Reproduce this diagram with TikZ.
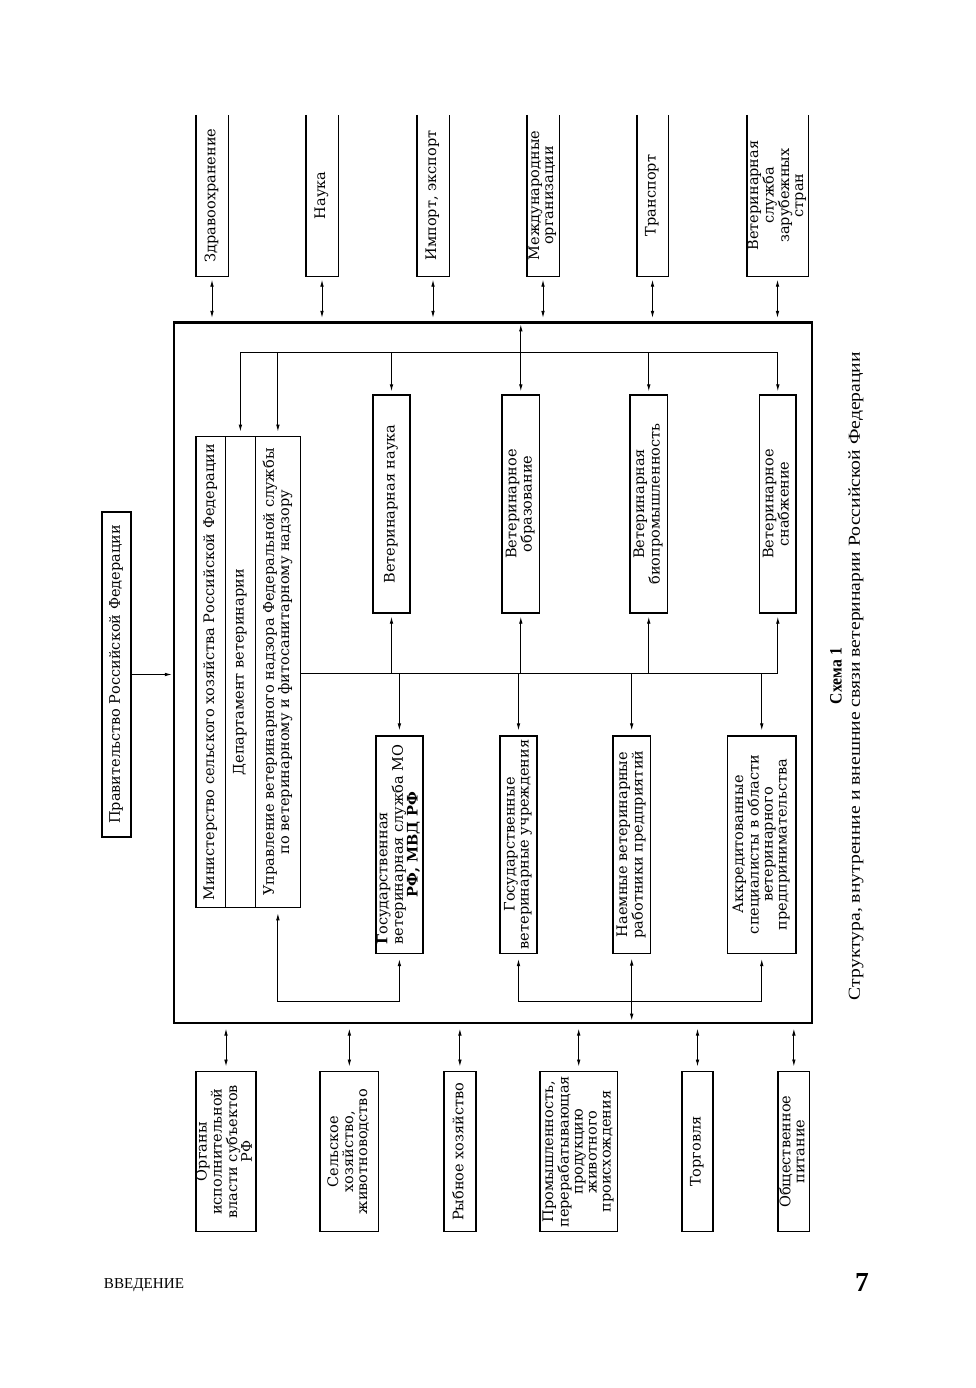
\documentclass[tikz,border=0pt]{standalone}
\usepackage{fontspec}
\setmainfont{DejaVu Serif}
\newfontfamily\capfont{Liberation Serif}
\usepackage{graphicx}
\usetikzlibrary{arrows.meta,calc}
\newcommand\rt[1]{\rotatebox{90}{\begin{tabular}{@{}c@{}}#1\end{tabular}}}
\begin{document}
\begin{tikzpicture}[x=1pt,y=-1pt,
  every node/.style={font=\fontsize{14.5pt}{14pt}\selectfont},
  box/.style={draw, line width=1.4pt, inner sep=0pt, align=center},
  openbox/.style={inner sep=0pt, align=center},
  bigbox/.style={draw, line width=2.2pt, inner sep=0pt},
  conn/.style={line width=0.9pt},
  arr/.style={conn, -{Latex[length=7pt,width=3.6pt]}},
  dbl/.style={conn, {Latex[length=7pt,width=3.6pt]}-{Latex[length=7pt,width=3.6pt]}}
]
\useasboundingbox (0,0) rectangle (975,1388);

% main frame
\node[bigbox, minimum width=638pt, minimum height=700.5pt] (main) at (493,672.75) {};

% government
\node[box, line width=2pt, minimum width=29pt, minimum height=325pt] (gov) at (116.5,674.5) {\rt{Правительство Российской Федерации}};

% top boxes (open at top)
\node[openbox, minimum width=32pt, minimum height=161pt] (t1) at (212,195.5) {\rt{Здравоохранение}};
\node[openbox, minimum width=32pt, minimum height=161pt] (t2) at (322,195.5) {\rt{Наука}};
\node[openbox, minimum width=32pt, minimum height=161pt] (t3) at (433,195.5) {\rt{Импорт, экспорт}};
\node[openbox, minimum width=32pt, minimum height=161pt] (t4) at (543,195.5) {\rt{Международные\\организации}};
\node[openbox, minimum width=31pt, minimum height=161pt] (t5) at (652.5,195.5) {\rt{Транспорт}};
\node[openbox, minimum width=61pt, minimum height=161pt] (t6) at (777.5,195.5) {\rt{Ветеринарная\\служба\\зарубежных\\стран}};
\foreach \t in {t1,t2,t3,t4,t5,t6}{
  \draw[line width=1.4pt] (\t.north west) -- (\t.south west) -- (\t.south east) -- (\t.north east);
}

% ministry strips
\node[box, line width=1.1pt, minimum width=29.4pt, minimum height=471pt] (m1) at (210.7,672.2) {\rt{Министерство сельского хозяйства Российской Федерации}};
\node[box, line width=1.1pt, minimum width=30pt, minimum height=471pt] (m2) at (240.4,672.2) {\rt{Департамент ветеринарии}};
\node[box, line width=1.1pt, minimum width=45pt, minimum height=471pt] (m3) at (277.9,672.2) {\rt{Управление ветеринарного надзора Федеральной службы\\по ветеринарному и фитосанитарному надзору}};

% middle row
\node[box, minimum width=37pt, minimum height=218pt] (v1) at (391.5,504) {\rt{Ветеринарная наука}};
\node[box, minimum width=37.6pt, minimum height=218pt] (v2) at (520.8,504) {\rt{Ветеринарное\\образование}};
\node[box, minimum width=37.5pt, minimum height=218pt] (v3) at (648.75,504) {\rt{Ветеринарная\\биопромышленность}};
\node[box, minimum width=36.4pt, minimum height=218pt] (v4) at (777.8,504) {\rt{Ветеринарное\\снабжение}};

% lower row
\node[box, line width=1.6pt, minimum width=47.2pt, minimum height=217.6pt] (l1) at (399.4,844.5) {\rotatebox{90}{\begin{tabular}{@{}l@{}}\textbf{Г}осударственная\\ветеринарная служба МО\\\multicolumn{1}{@{}c@{}}{\textbf{РФ, МВД РФ}}\end{tabular}}};
\node[box, line width=1.6pt, minimum width=37pt, minimum height=217.6pt] (l2) at (518.5,844.5) {\rt{Государственные\\ветеринарные учреждения}};
\node[box, line width=1.6pt, minimum width=37.4pt, minimum height=217.6pt] (l3) at (631.7,844.5) {\rt{Наемные ветеринарные\\работники предприятий}};
\node[box, line width=1.6pt, minimum width=68.5pt, minimum height=217.6pt] (l4) at (761.75,844.5) {\rt{Аккредитованные\\специалисты в области\\ветеринарного\\предпринимательства}};

% bottom boxes
\node[box, minimum width=58.5pt, minimum height=160pt] (b1) at (226,1151.7) {\rt{Органы\\исполнительной\\власти субъектов\\РФ}};
\node[box, minimum width=58.7pt, minimum height=160pt] (b2) at (349.35,1151.7) {\rt{Сельское\\хозяйство,\\животноводство}};
\node[box, minimum width=32.2pt, minimum height=160pt] (b3) at (459.9,1151.7) {\rt{Рыбное хозяйство}};
\node[box, minimum width=77.4pt, minimum height=160pt] (b4) at (578.7,1151.7) {\rt{Промышленность,\\перерабатывающая\\продукцию\\животного\\происхождения}};
\node[box, minimum width=31pt, minimum height=160pt] (b5) at (697.5,1151.7) {\rt{Торговля}};
\node[box, minimum width=31.7pt, minimum height=160pt] (b6) at (793.85,1151.7) {\rt{Общественное\\питание}};

% external links
\foreach \t in {t1,t2,t3,t4,t5,t6}{
  \draw[dbl, shorten <=3.5pt, shorten >=3.5pt] (\t.south) -- (\t.south |- main.north);
}
\foreach \b in {b1,b2,b3,b4,b5,b6}{
  \draw[dbl, shorten <=4.5pt, shorten >=4.5pt] (main.south -| \b.north) -- (\b.north);
}
\draw[arr, shorten >=1pt] (gov.east) -- (gov.east -| main.west);

% inner upper bus
\coordinate (hu) at (0,352);
\draw[conn] (m2.north |- hu) -- (v4.north |- hu);
\draw[arr, shorten >=4.5pt] (m2.north |- hu) -- (m2.north);
\draw[arr, shorten >=4.5pt] (m3.north |- hu) -- (m3.north);
\foreach \v in {v1,v3,v4}{
  \draw[arr, shorten >=3pt] (\v.north |- hu) -- (\v.north);
}
\draw[dbl, shorten <=3pt, shorten >=3pt] (main.north -| v2.north) -- (v2.north);

% inner lower bus
\coordinate (hl) at (0,673.3);
\draw[conn] (m3.east |- hl) -- (v4.south |- hl);
\foreach \v in {v1,v2,v3,v4}{
  \draw[arr, shorten >=3pt] (\v.south |- hl) -- (\v.south);
}
\foreach \l in {l1,l2,l3,l4}{
  \draw[arr, shorten >=4.5pt] (\l.north |- hl) -- (\l.north);
}

% bottom inner connectors
\coordinate (hb) at (0,1001);
\draw[dbl, shorten <=5pt, shorten >=5pt] (m3.south) -- (m3.south |- hb) -- (l1.south |- hb) -- (l1.south);
\draw[dbl, shorten <=5pt, shorten >=5pt] (l2.south) -- (l2.south |- hb) -- (l4.south |- hb) -- (l4.south);
\draw[dbl, shorten <=4.5pt, shorten >=3.5pt] (l3.south) -- (l3.south |- main.south);

% caption
\node[inner sep=0pt] (cap1) at (836,676) {\rotatebox{90}{\resizebox{56pt}{11.5pt}{\capfont\bfseries Схема 1}}};
\node[inner sep=0pt] (cap2) at (856,676) {\rotatebox{90}{\resizebox{648pt}{11.5pt}{\capfont Структура, внутренние и внешние связи ветеринарии Российской Федерации}}};

% running head
\node[inner sep=0pt, anchor=base] (head) at (144,1288) {\resizebox{80pt}{!}{\capfont ВВЕДЕНИЕ}};
\node[inner sep=0pt, anchor=base] (page) at (862,1291) {\resizebox{!}{18pt}{\capfont\bfseries 7}};
\end{tikzpicture}
\end{document}
